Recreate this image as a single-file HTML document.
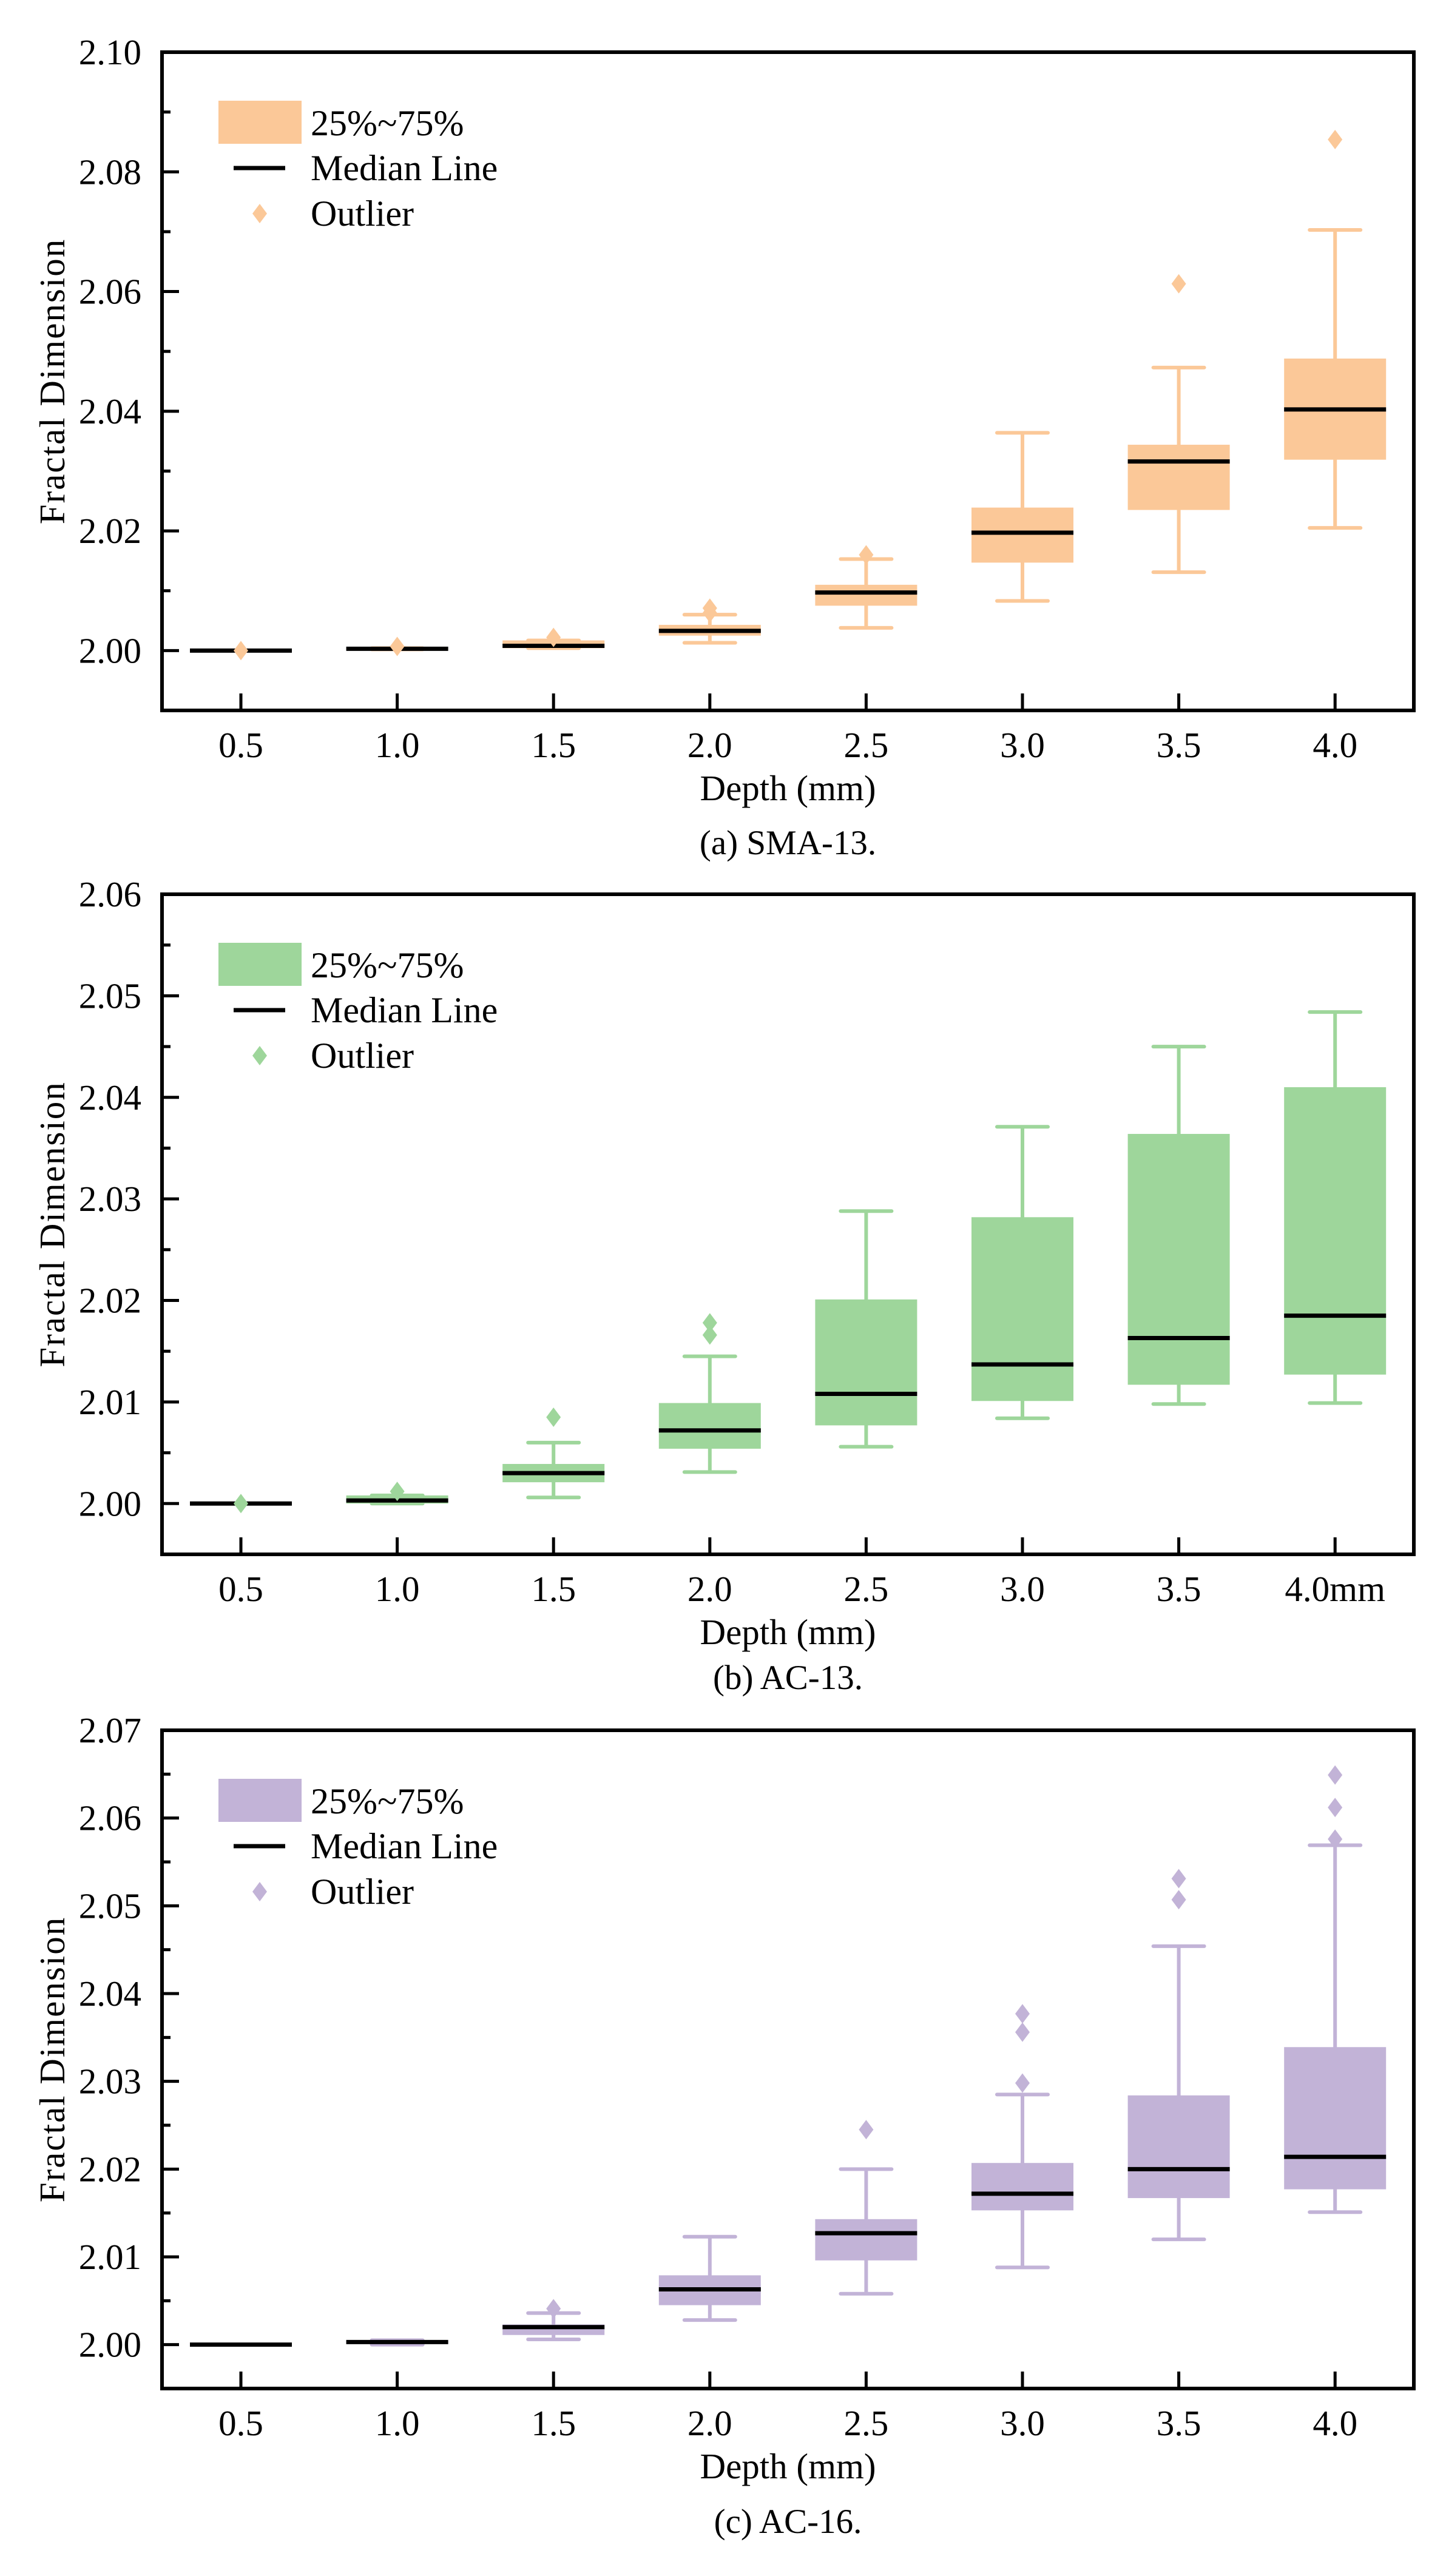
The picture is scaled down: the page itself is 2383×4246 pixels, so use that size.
<!DOCTYPE html>
<html><head><meta charset="utf-8">
<style>
html,body{margin:0;padding:0;background:#fff;}
svg{display:block;}
text{font-family:"Liberation Serif","Times New Roman",serif;fill:#000;}
</style></head>
<body>
<svg id="fig" width="2383" height="4246" viewBox="0 0 2383 4246" xmlns="http://www.w3.org/2000/svg"></svg>
<script>
// ---- Data ----
const categories = ["0.5","1.0","1.5","2.0","2.5","3.0","3.5","4.0"];
const catLabelsB = ["0.5","1.0","1.5","2.0","2.5","3.0","3.5","4.0mm"];

// Panel (a) SMA-13
const smaQ1   = [2.0000,2.0002,2.0004,2.0025,2.0075,2.0147,2.0235,2.0319];
const smaMed  = [2.0000,2.0003,2.0008,2.0033,2.0097,2.0197,2.0316,2.0403];
const smaQ3   = [2.0000,2.0004,2.0017,2.0043,2.0110,2.0239,2.0344,2.0488];
const smaLo   = [2.0000,2.0002,2.0004,2.0013,2.0038,2.0083,2.0131,2.0205];
const smaHi   = [2.0000,2.0004,2.0017,2.0060,2.0153,2.0364,2.0473,2.0703];
const smaOut  = [[2.0000],[2.0007],[2.0022],[2.0071,2.0063],[2.0160],[],[2.0613],[2.0854]];
const smaTicks = [2.00,2.02,2.04,2.06,2.08,2.10];
const smaTickLabels = ["2.00","2.02","2.04","2.06","2.08","2.10"];

// Panel (b) AC-13
const ac13Q1  = [2.0000,2.0000,2.0021,2.0054,2.0077,2.0101,2.0117,2.0127];
const ac13Med = [2.0000,2.0003,2.0030,2.0072,2.0108,2.0137,2.0163,2.0185];
const ac13Q3  = [2.0000,2.0008,2.0039,2.0099,2.0201,2.0282,2.0364,2.0410];
const ac13Lo  = [2.0000,2.0000,2.0006,2.0031,2.0056,2.0084,2.0098,2.0099];
const ac13Hi  = [2.0000,2.0008,2.0060,2.0145,2.0288,2.0371,2.0450,2.0484];
const ac13Out = [[2.0000],[2.0012],[2.0085],[2.0178,2.0166],[],[],[],[]];
const ac13Ticks = [2.00,2.01,2.02,2.03,2.04,2.05,2.06];
const ac13TickLabels = ["2.00","2.01","2.02","2.03","2.04","2.05","2.06"];

// Panel (c) AC-16
const ac16Q1  = [2.0000,2.0001,2.0011,2.0045,2.0096,2.0153,2.0167,2.0177];
const ac16Med = [2.0000,2.0003,2.0020,2.0063,2.0127,2.0172,2.0200,2.0214];
const ac16Q3  = [2.0000,2.0004,2.0023,2.0079,2.0143,2.0207,2.0284,2.0339];
const ac16Lo  = [2.0000,2.0000,2.0006,2.0028,2.0058,2.0088,2.0120,2.0151];
const ac16Hi  = [2.0000,2.0005,2.0036,2.0123,2.0200,2.0285,2.0454,2.0569];
const ac16Out = [[],[],[2.0041],[],[2.0245],[2.0377,2.0356,2.0298],[2.0531,2.0507],[2.0649,2.0612,2.0576]];
const ac16Ticks = [2.00,2.01,2.02,2.03,2.04,2.05,2.06,2.07];
const ac16TickLabels = ["2.00","2.01","2.02","2.03","2.04","2.05","2.06","2.07"];

// ---- Rendering ----
const NS = "http://www.w3.org/2000/svg";
const svg = document.getElementById("fig");
function mk(tag, attrs, parent){
  const e = document.createElementNS(NS, tag);
  for (const k in attrs) e.setAttribute(k, attrs[k]);
  (parent||svg).appendChild(e);
  return e;
}
const L = 267, R = 2330;
function xScale(i){ return 397 + i*257.6; }

function panel(cfg){
  const g = mk("g", {});
  
  
  const T = cfg.top, B = cfg.bottom;
  const yScale = v => T + (cfg.ymax - v) / (cfg.ymax - cfg.ymin) * (B - T);
  for (let i = 0; i < categories.length; i++){
    const cx = xScale(i);
    const bg = mk("g", {}, g);
    
    
    const wl = mk("line", {x1:cx, x2:cx, y1:yScale(cfg.hi[i]), y2:yScale(cfg.lo[i]), stroke:cfg.color, "stroke-width":6}, bg);
    
    
    [cfg.hi[i], cfg.lo[i]].forEach(v => {
      const c = mk("line", {x1:cx-42, x2:cx+42, y1:yScale(v), y2:yScale(v), stroke:cfg.color, "stroke-width":6, "stroke-linecap":"round"}, bg);
      
      
    });
    const y3 = yScale(cfg.q3[i]), y1 = yScale(cfg.q1[i]);
    const r = mk("rect", {x:cx-84, y:y3, width:168, height:Math.max(y1-y3,0.5), fill:cfg.color}, bg);
    
    
    const m = mk("line", {x1:cx-84, x2:cx+84, y1:yScale(cfg.med[i]), y2:yScale(cfg.med[i]), stroke:"#000", "stroke-width":7}, bg);
    
    
    cfg.out[i].forEach(v => {
      const y = yScale(v);
      const d = mk("polygon", {points:`${cx},${y-16} ${cx+12},${y} ${cx},${y+16} ${cx-12},${y}`, fill:cfg.color}, bg);
      
      
    });
  }
  const fr = mk("rect", {x:L, y:T, width:R-L, height:B-T, fill:"none", stroke:"#000", "stroke-width":6}, g);
  
  
  cfg.ticks.forEach((v, k) => {
    const y = yScale(v);
    const t = mk("line", {x1:L, x2:L+28, y1:y, y2:y, stroke:"#000", "stroke-width":5}, g);
    
    
    const tx = mk("text", {x:233, y:y+20, "font-size":59, "text-anchor":"end"}, g);
    tx.textContent = cfg.tickLabels[k];
    
    
    if (k < cfg.ticks.length - 1){
      const ym = yScale((v + cfg.ticks[k+1]) / 2);
      const mt = mk("line", {x1:L, x2:L+14, y1:ym, y2:ym, stroke:"#000", "stroke-width":5}, g);
      
      
    }
  });
  for (let i = 0; i < categories.length; i++){
    const cx = xScale(i);
    const t = mk("line", {x1:cx, x2:cx, y1:B, y2:B-28, stroke:"#000", "stroke-width":5}, g);
    
    
    const tx = mk("text", {x:cx, y:B+77, "font-size":59, "text-anchor":"middle"}, g);
    tx.textContent = cfg.xLabels[i];
    
    
  }
  const xt = mk("text", {x:(L+R)/2, y:B+148, "font-size":59, "text-anchor":"middle"}, g);
  xt.textContent = "Depth (mm)";
  
  
  const cap = mk("text", {x:(L+R)/2, y:B+cfg.capOff, "font-size":57, "text-anchor":"middle"}, g);
  cap.textContent = cfg.caption;
  
  
  const yc = (T + B) / 2;
  const yt = mk("text", {x:0, y:0, "font-size":59, "text-anchor":"middle", "letter-spacing":"2", transform:`translate(106,${yc}) rotate(-90)`}, g);
  yt.textContent = "Fractal Dimension";
  
  
  const lg = mk("g", {}, g);
  
  
  const sw = mk("rect", {x:360, y:T+80, width:137, height:71, fill:cfg.color}, lg);
  
  
  const l1 = mk("text", {x:512, y:T+137, "font-size":60}, lg);
  l1.textContent = "25%~75%";
  
  
  const ml = mk("line", {x1:385, x2:470, y1:T+191, y2:T+191, stroke:"#000", "stroke-width":7}, lg);
  
  
  const l2 = mk("text", {x:512, y:T+211, "font-size":60}, lg);
  l2.textContent = "Median Line";
  
  
  const oy = T + 266;
  const od = mk("polygon", {points:`428,${oy-16} 440,${oy} 428,${oy+16} 416,${oy}`, fill:cfg.color}, lg);
  
  
  const l3 = mk("text", {x:512, y:T+286, "font-size":60}, lg);
  l3.textContent = "Outlier";
  
  
}

panel({name:"panel-sma-13", top:86, bottom:1171, ymin:1.99, ymax:2.10, color:"#FBC898",
  q1:smaQ1, med:smaMed, q3:smaQ3, lo:smaLo, hi:smaHi, out:smaOut,
  ticks:smaTicks, tickLabels:smaTickLabels, xLabels:categories, caption:"(a) SMA-13.", capOff:237});
panel({name:"panel-ac-13", top:1474, bottom:2562, ymin:1.995, ymax:2.06, color:"#9ED69B",
  q1:ac13Q1, med:ac13Med, q3:ac13Q3, lo:ac13Lo, hi:ac13Hi, out:ac13Out,
  ticks:ac13Ticks, tickLabels:ac13TickLabels, xLabels:catLabelsB, caption:"(b) AC-13.", capOff:222});
panel({name:"panel-ac-16", top:2852, bottom:3937, ymin:1.995, ymax:2.07, color:"#C2B3D7",
  q1:ac16Q1, med:ac16Med, q3:ac16Q3, lo:ac16Lo, hi:ac16Hi, out:ac16Out,
  ticks:ac16Ticks, tickLabels:ac16TickLabels, xLabels:categories, caption:"(c) AC-16.", capOff:238});
</script>
</body></html>
